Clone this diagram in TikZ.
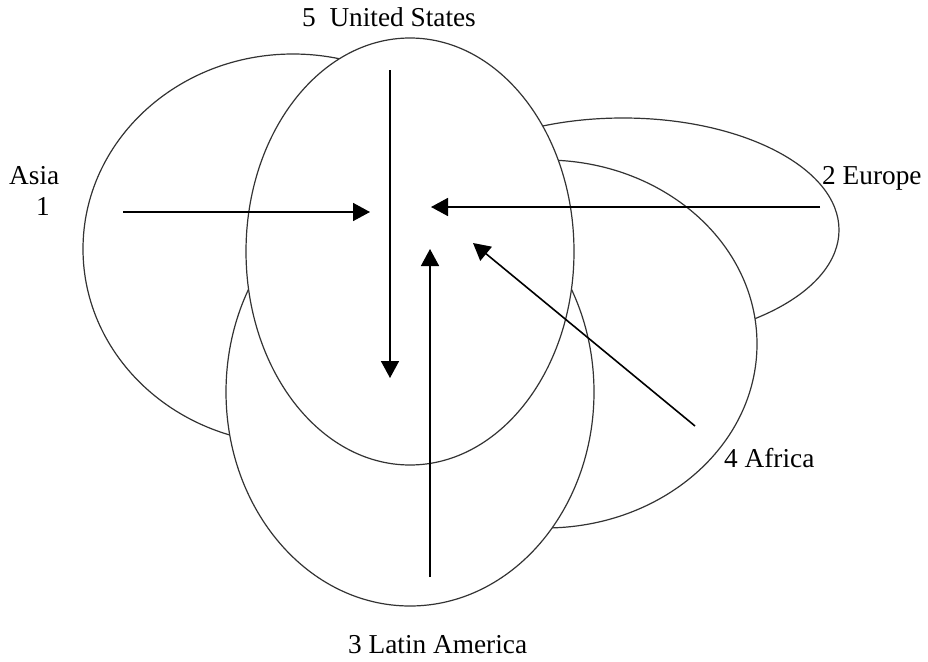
\documentclass[tikz,border=0pt]{standalone}
\usepackage{fontspec}
\setmainfont{Liberation Serif}
\usetikzlibrary{shapes.geometric,arrows.meta}
\begin{document}
\begin{tikzpicture}[x=1pt,y=-1pt,
  region/.style={draw=black!80,line width=1.2pt,fill=white,ellipse,inner sep=0pt},
  flow/.style={line width=1.6pt,-{Triangle[length=17pt,width=18pt]}},
  lbl/.style={inner sep=0pt,anchor=base west,font=\fontsize{27.3}{31}\selectfont}]
\useasboundingbox (0,0) rectangle (928,661);
% regions (back to front)
\node[region,minimum width=432pt,minimum height=224pt] (europe) at (623,230) {};
\node[region,minimum width=424pt,minimum height=368pt] (africa) at (545,344) {};
\node[region,minimum width=420pt,minimum height=390pt] (asia) at (293,249) {};
\node[region,minimum width=368pt,minimum height=428pt] (latam) at (410,392) {};
\node[region,minimum width=328pt,minimum height=427pt] (us) at (410,251.5) {};
% arrow end points
\coordinate (asiaS) at (123,212);
\coordinate (asiaT) at (370,212);
\coordinate (usS) at (390,70);
\coordinate (usT) at (390,378);
\coordinate (euS) at (820,207);
\coordinate (euT) at (431,207);
\coordinate (laS) at (430,577);
\coordinate (laT) at (430,249);
\coordinate (afS) at (695,426);
\coordinate (afT) at (473,243);
\draw[flow] (asiaS) -- (asiaT);
\draw[flow] (usS) -- (usT);
\draw[flow] (euS) -- (euT);
\draw[flow] (laS) -- (laT);
\draw[flow] (afS) -- (afT);
% labels
\node[lbl] (uslbl) at (302,27) {5\ \ United States};
\node[lbl] (asialbl) at (9,184) {Asia};
\node[lbl] (asianum) at (36,215) {1};
\node[lbl] (eulbl) at (822,184) {2 Europe};
\node[lbl] (aflbl) at (724,467) {4 Africa};
\node[lbl] (lalbl) at (348,653) {3 Latin America};
\end{tikzpicture}
\end{document}
